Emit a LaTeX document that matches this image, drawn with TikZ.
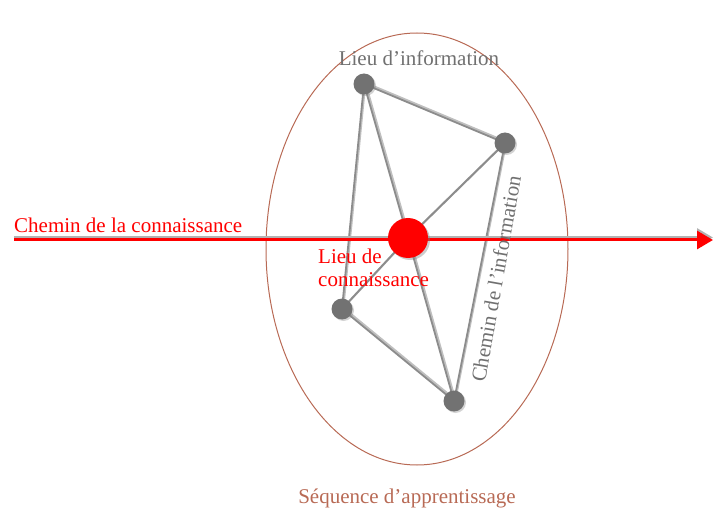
\documentclass[tikz,border=0pt]{standalone}
\usepackage{fontspec}
\setmainfont{Liberation Serif}
\usetikzlibrary{arrows.meta,shadows}
\definecolor{edgegray}{HTML}{8C8C8C}
\definecolor{nodegray}{HTML}{727272}
\definecolor{ellbrown}{HTML}{B86A55}
\definecolor{txtgray}{HTML}{707070}
\definecolor{kred}{HTML}{FF0000}
\tikzset{
  infonode/.style={circle,fill=nodegray,minimum size=21pt,inner sep=0pt,
    drop shadow={shadow xshift=1.5pt,shadow yshift=-1.5pt,opacity=0.35}},
  knownode/.style={circle,fill=kred,minimum size=40pt,inner sep=0pt,
    drop shadow={shadow xshift=2pt,shadow yshift=-2pt,opacity=0.4}},
  link/.style={draw=edgegray,line width=1.8pt},
  linkshadow/.style={draw=black!25,line width=2.2pt},
  lbl/.style={font=\fontsize{21}{24}\selectfont,inner sep=0pt},
}
\begin{document}
\begin{tikzpicture}[x=1pt,y=-1pt]
\useasboundingbox (0,0) rectangle (713,508);
% ellipse
\draw[ellbrown,line width=1pt] (417,249) ellipse [x radius=151,y radius=216];
% node coordinates
\coordinate (pA) at (364,84);
\coordinate (pB) at (505,143);
\coordinate (pC) at (408,238);
\coordinate (pD) at (342,309);
\coordinate (pE) at (454,401);
% edge shadows
\foreach \u/\v in {pA/pB,pA/pC,pA/pD,pB/pC,pC/pD,pB/pE,pC/pE,pD/pE}
  \draw[linkshadow] ([xshift=1.2pt,yshift=1.2pt]\u) -- ([xshift=1.2pt,yshift=1.2pt]\v);
\foreach \u/\v in {pA/pB,pA/pC,pA/pD,pB/pC,pC/pD,pB/pE,pC/pE,pD/pE}
  \draw[link] (\u) -- (\v);
% arrow
\coordinate (s0) at (14,240);
\coordinate (s1) at (713,240);
\draw[black!30,line width=3pt,-{Triangle[length=16pt,width=18pt]}] ([yshift=2.5pt]s0) -- ([yshift=2.5pt]s1);
\draw[kred,line width=3pt,-{Triangle[length=16pt,width=18pt]}] (s0) -- (s1);
% nodes
\node[infonode] (A) at (pA) {};
\node[infonode] (B) at (pB) {};
\node[infonode] (D) at (pD) {};
\node[infonode] (E) at (pE) {};
\node[knownode] (C) at (pC) {};
% labels
\node[lbl,text=kred,anchor=base west] (t1) at (14,233) {Chemin de la connaissance};
\node[lbl,text=txtgray,anchor=base] (t2) at (419,66) {Lieu d’information};
\node[lbl,text=kred,anchor=base west,align=left] (t3) at (318,287) {Lieu de\\connaissance};
\node[lbl,text=txtgray,anchor=base west,rotate=80] (t4) at (485,383) {Chemin de l’information};
\node[lbl,text=ellbrown,anchor=base] (t5) at (407,503) {Séquence d’apprentissage};
\end{tikzpicture}
\end{document}
